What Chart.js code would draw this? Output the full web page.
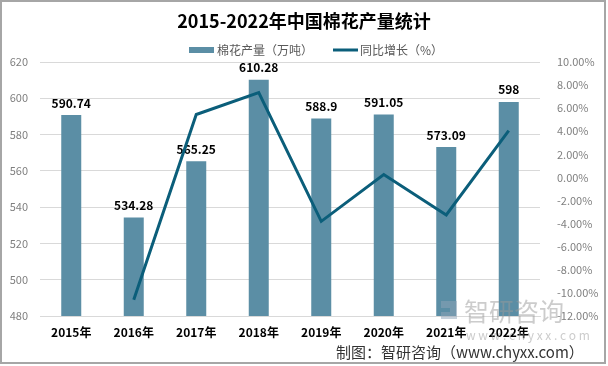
<!DOCTYPE html>
<html>
<head>
<meta charset="utf-8">
<script src="https://cdn.jsdelivr.net/npm/chart.js@4/dist/chart.umd.min.js"></script>
<style>
  html, body { margin: 0; padding: 0; background: #fff; }
  #wrap { position: relative; width: 608px; height: 366px; }
</style>
</head>
<body>
<div id="wrap"><canvas id="cottonChart" width="608" height="366"></canvas></div>
<script>
// data
const years = ['2015年', '2016年', '2017年', '2018年', '2019年', '2020年', '2021年', '2022年'];
const output = [590.74, 534.28, 565.25, 610.28, 588.9, 591.05, 573.09, 598];
const growth = [null, -10.6, 5.45, 7.35, -3.8, 0.25, -3.25, 4.05];
const outputLabels = ['590.74', '534.28', '565.25', '610.28', '588.9', '591.05', '573.09', '598'];
const seriesNames = ['棉花产量（万吨）', '同比增长（%）'];

const FONT = '"Microsoft YaHei", "Noto Sans CJK SC", "DejaVu Sans", sans-serif';
const BAR_COLOR = '#5b8ea5';
const LINE_COLOR = '#0b5e7a';

// value labels over the bars, drawn before the line so the line stays on top
const barLabels = {
    id: 'barLabels',
    afterDatasetDraw(chart, args) {
        if (args.index !== 0) return;
        const ctx = chart.ctx;
        ctx.save();
        ctx.fillStyle = '#000';
        ctx.font = 'bold 12px ' + FONT;
        ctx.textAlign = 'center';
        ctx.textBaseline = 'bottom';
        args.meta.data.forEach((bar, i) => {
            ctx.fillText(outputLabels[i], bar.x, bar.y - 6);
        });
        ctx.restore();
    }
};

// frame, legend, watermark and source line
const decor = {
    id: 'decor',
    beforeDraw(chart) {
        const ctx = chart.ctx;
        ctx.save();
        ctx.fillStyle = '#fff';
        ctx.fillRect(0, 0, chart.width, chart.height);
        ctx.restore();
    },
    afterDraw(chart) {
        const ctx = chart.ctx;
        ctx.save();
        ctx.strokeStyle = '#a6a6a6';
        ctx.lineWidth = 2;
        ctx.strokeRect(1, 1, 604, 362);

        // legend
        ctx.font = '12px ' + FONT;
        ctx.textBaseline = 'middle';
        ctx.textAlign = 'left';
        ctx.fillStyle = BAR_COLOR;
        ctx.fillRect(189, 47, 25, 6);
        ctx.fillStyle = '#595959';
        ctx.fillText(seriesNames[0], 217, 50);
        ctx.strokeStyle = LINE_COLOR;
        ctx.lineWidth = 3;
        ctx.beginPath();
        ctx.moveTo(333, 50);
        ctx.lineTo(358, 50);
        ctx.stroke();
        ctx.fillText(seriesNames[1], 360, 50);

        // watermark
        ctx.globalAlpha = 0.5;
        ctx.fillStyle = '#8fa3b8';
        ctx.fillRect(441, 301, 16, 7);
        ctx.fillRect(450, 308, 7, 11);
        ctx.fillRect(441, 312, 9, 7);
        ctx.fillStyle = '#9a9a9a';
        ctx.font = '25px ' + FONT;
        ctx.fillText('智研咨询', 464, 311);
        ctx.font = '12px ' + FONT;
        ctx.fillText('w w w . c h y x x . c o m', 466, 335);
        ctx.globalAlpha = 1;

        ctx.fillStyle = '#333';
        ctx.font = '15px ' + FONT;
        ctx.fillText('制图：智研咨询（www.chyxx.com）', 336, 352);
        ctx.restore();
    }
};

new Chart(document.getElementById('cottonChart'), {
    type: 'bar',
    data: {
        labels: years,
        datasets: [{
            type: 'bar',
            label: seriesNames[0],
            data: output,
            backgroundColor: BAR_COLOR,
            borderWidth: 0,
            yAxisID: 'y',
            barPercentage: 0.64,
            categoryPercentage: 0.5,
            order: 2
        }, {
            type: 'line',
            label: seriesNames[1],
            data: growth,
            borderColor: LINE_COLOR,
            backgroundColor: LINE_COLOR,
            borderWidth: 3,
            pointRadius: 0,
            tension: 0,
            yAxisID: 'y1',
            order: 1
        }]
    },
    options: {
        responsive: false,
        animation: false,
        layout: { padding: 0 },
        plugins: {
            title: {
                display: true,
                text: '2015-2022年中国棉花产量统计',
                color: '#000',
                font: { family: FONT, size: 18, weight: 'bold' },
                padding: { top: 10, bottom: 30.4 }
            },
            legend: { display: false },
            tooltip: { enabled: false }
        },
        scales: {
            x: {
                grid: { display: false },
                border: { color: '#d9d9d9' },
                ticks: { color: '#000', font: { family: FONT, size: 12, weight: 'bold' }, padding: 1 },
                afterFit(s) { s.height = 50; }
            },
            y: {
                position: 'left',
                min: 480,
                max: 620,
                grid: { color: '#d9d9d9', drawTicks: false },
                border: { display: false },
                ticks: { stepSize: 20, color: '#7f7f7f', font: { family: FONT, size: 11 }, padding: 12 },
                afterFit(s) { s.width = 40; }
            },
            y1: {
                position: 'right',
                min: -12,
                max: 10,
                grid: { display: false },
                border: { display: false },
                ticks: {
                    stepSize: 2,
                    color: '#7f7f7f',
                    font: { family: FONT, size: 11 },
                    padding: 9,
                    callback: v => v.toFixed(2) + '%'
                },
                afterFit(s) { s.width = 68; }
            }
        }
    },
    plugins: [barLabels, decor]
});
</script>
</body>
</html>
